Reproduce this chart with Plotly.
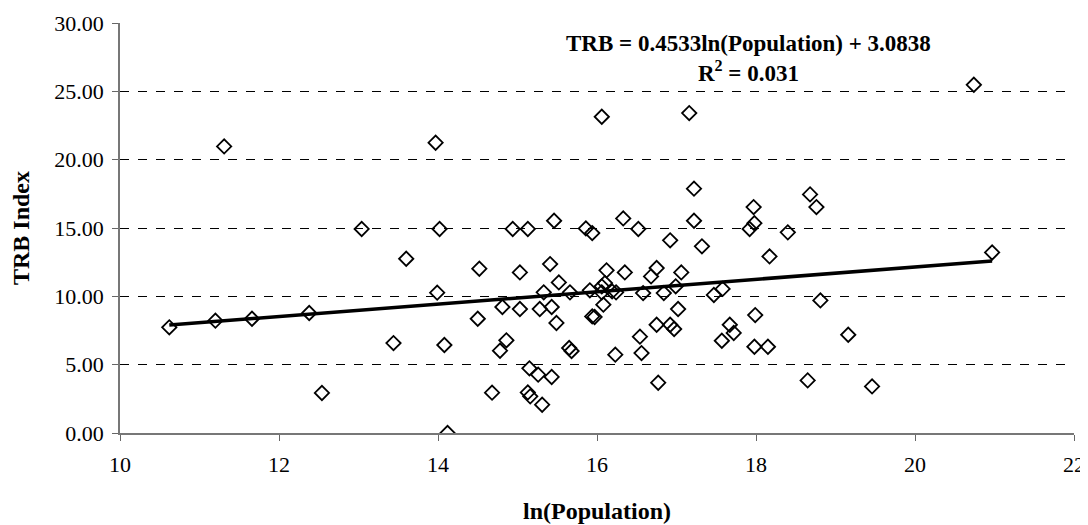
import plotly.graph_objects as go

ln_population = [
    10.62, 11.20, 11.66, 12.38, 12.54, 13.04, 13.44, 13.60, 13.99, 14.02, 14.08, 14.12,
    14.50, 14.52, 14.68, 14.78, 14.81, 11.31, 13.97, 16.06, 17.16, 17.22, 18.68, 18.76,
    17.97, 17.98, 17.92, 17.22, 16.33, 16.52, 15.46, 14.94, 15.13, 15.86, 15.94, 16.92,
    18.40, 20.74, 20.97, 19.46, 17.32, 18.17, 15.03, 15.41, 15.52, 16.12, 16.35, 16.75,
    16.68, 17.06, 16.10, 16.06, 15.33, 15.66, 15.91, 16.06, 16.19, 16.24, 16.58, 16.84,
    16.99, 17.47, 17.58, 18.81, 15.03, 15.28, 15.43, 15.49, 15.94, 15.97, 16.08, 17.02,
    17.99, 16.75, 16.92, 16.97, 17.67, 17.72, 17.57, 16.54, 16.56, 16.23, 15.65, 15.68,
    14.86, 17.98, 18.15, 19.16, 15.15, 15.26, 15.43, 16.77, 18.65, 15.13, 15.16, 15.31,
]
trb_index = [
    7.73, 8.22, 8.36, 8.78, 2.93, 14.93, 6.58, 12.75, 10.27, 14.93, 6.44, 0.00,
    8.36, 12.02, 2.95, 6.02, 9.22, 20.97, 21.24, 23.14, 23.41, 17.88, 17.46, 16.53,
    16.53, 15.35, 14.93, 15.53, 15.70, 14.93, 15.53, 14.93, 14.93, 14.97, 14.63, 14.10,
    14.68, 25.48, 13.21, 3.41, 13.66, 12.92, 11.75, 12.36, 11.02, 11.90, 11.75, 12.07,
    11.46, 11.75, 10.97, 10.73, 10.29, 10.29, 10.44, 10.29, 10.36, 10.29, 10.24, 10.24,
    10.73, 10.10, 10.54, 9.70, 9.07, 9.07, 9.22, 8.05, 8.53, 8.49, 9.39, 9.07,
    8.63, 7.92, 7.92, 7.61, 7.92, 7.32, 6.75, 7.05, 5.85, 5.73, 6.22, 6.00,
    6.78, 6.31, 6.31, 7.19, 4.73, 4.27, 4.10, 3.68, 3.85, 2.97, 2.68, 2.07,
]

trend_slope = 0.4533
trend_intercept = 3.0838
r_squared = 0.031

x_ticks = [10, 12, 14, 16, 18, 20, 22]
y_ticks = [0, 5, 10, 15, 20, 25, 30]

trend_x = [min(ln_population), max(ln_population)]
trend_y = [trend_slope * v + trend_intercept for v in trend_x]

FONT = "Liberation Serif, Times New Roman, serif"

fig = go.Figure()
fig.add_trace(go.Scatter(
    x=ln_population, y=trb_index, mode="markers",
    marker=dict(symbol="diamond-open", size=11, color="black", line=dict(width=1.8, color="black")),
    showlegend=False,
))
fig.add_trace(go.Scatter(
    x=trend_x, y=trend_y, mode="lines",
    line=dict(color="black", width=3.5), showlegend=False,
))

fig.add_annotation(
    xref="paper", yref="paper", x=0.659, y=0.985, xanchor="center", yanchor="top",
    text=f"<b>TRB = {trend_slope}ln(Population) + {trend_intercept}<br>R<sup>2</sup> = {r_squared}</b>",
    showarrow=False, align="center", font=dict(family=FONT, size=23, color="black"),
)

fig.update_layout(
    width=1080, height=517,
    margin=dict(l=112, r=14, t=15, b=92),
    paper_bgcolor="white", plot_bgcolor="white",
    font=dict(family=FONT, size=22, color="black"),
    xaxis=dict(
        range=[10, 22], tickvals=x_ticks, ticks="outside", ticklen=6, tickcolor="#666",
        showgrid=False, zeroline=False, showline=True, linecolor="#777", linewidth=1.5,
        automargin=False, ticklabelstandoff=5,
        title=dict(text="<b>ln(Population)</b>", font=dict(family=FONT, size=24), standoff=26),
        tickfont=dict(family=FONT, size=22),
    ),
    yaxis=dict(
        range=[0, 30], tickvals=y_ticks, tickformat=".2f", ticks="outside", ticklen=6, tickcolor="#666",
        showgrid=True, gridcolor="black", griddash="dash", gridwidth=1,
        zeroline=False, showline=True, linecolor="#777", linewidth=1.5,
        automargin=False, ticklabelstandoff=4,
        title=dict(text="<b>TRB Index</b>", font=dict(family=FONT, size=24), standoff=18),
        tickfont=dict(family=FONT, size=22),
    ),
)

fig.write_html("out.html")
